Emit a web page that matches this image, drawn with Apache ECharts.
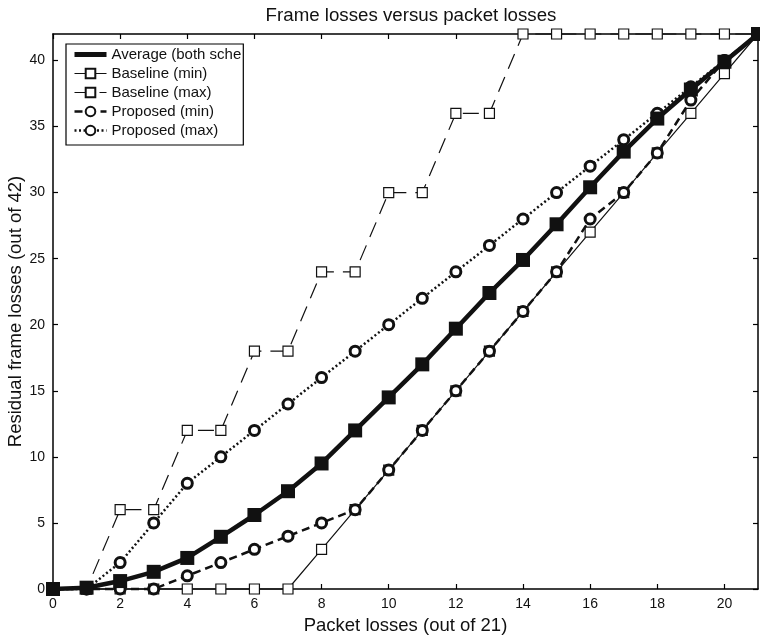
<!DOCTYPE html>
<html>
<head>
<meta charset="utf-8">
<script src="https://cdn.jsdelivr.net/npm/echarts@6/dist/echarts.min.js"></script>
<style>
html,body{margin:0;padding:0;background:#fff;}
#chart{width:760px;height:640px;}
</style>
</head>
<body>
<div id="chart"></div>
<script>
var packetLosses = [0,1,2,3,4,5,6,7,8,9,10,11,12,13,14,15,16,17,18,19,20,21];
var averageBoth  = [0,0.1,0.6,1.3,2.35,3.95,5.6,7.4,9.5,12,14.5,17,19.7,22.4,24.9,27.6,30.4,33.1,35.6,37.8,39.9,42];
var baselineMin  = [0,0,0,0,0,0,0,0,3,6,9,12,15,18,21,24,27,30,33,36,39,42];
var baselineMax  = [0,0,6,6,12,12,18,18,24,24,30,30,36,36,42,42,42,42,42,42,42,42];
var proposedMin  = [0,0,0,0,1,2,3,4,5,6,9,12,15,18,21,24,28,30,33,37,40,42];
var proposedMax  = [0,0,2,5,8,10,12,14,16,18,20,22,24,26,28,30,32,34,36,38,40,42];
var xTicks = [0,2,4,6,8,10,12,14,16,18,20];
var yTicks = [0,5,10,15,20,25,30,35,40];

function pairs(ys){ return packetLosses.map(function(x,i){ return [x, ys[i]]; }); }

var FONT = "'Liberation Sans', Arial, Helvetica, sans-serif";
var axisCommon = {
  type:'value',
  axisLine:{show:true, onZero:false, lineStyle:{color:'#000', width:1.5}},
  axisTick:{show:true, inside:true, length:5, lineStyle:{color:'#000', width:1.2}},
  splitLine:{show:false}
};

var chart = echarts.init(document.getElementById('chart'), null, {renderer:'canvas'});
chart.setOption({
  backgroundColor:'#fff',
  animation:false,
  title:{
    text:'Frame losses versus packet losses',
    left:406, top:1, textAlign:'center',
    textStyle:{fontFamily:FONT, fontSize:18.7, fontWeight:'normal', color:'#111'}
  },
  grid:{left:53, right:2, top:34, bottom:51, containLabel:false, outerBoundsMode:'none'},
  legend:{
    orient:'vertical', left:66, top:44,
    data:[
      {name:'Average (both schemes)', itemStyle:{opacity:0}, lineStyle:{width:5}},
      {name:'Baseline (min)', lineStyle:{width:1.2}},
      {name:'Baseline (max)', lineStyle:{width:1.2}},
      {name:'Proposed (min)', lineStyle:{width:2.5}},
      {name:'Proposed (max)', lineStyle:{width:2.5}}
    ],
    backgroundColor:'#fff', borderColor:'#000', borderWidth:1.2,
    padding:[3,2,7,6], itemGap:4, itemWidth:32, itemHeight:12,
    textStyle:{fontFamily:FONT, fontSize:15, color:'#111', width:142, overflow:'truncate', ellipsis:''}
  },
  xAxis:[
    Object.assign({}, axisCommon, {
      position:'bottom', min:0, max:21, interval:2,
      name:'Packet losses (out of 21)', nameLocation:'middle', nameGap:27, nameMoveOverlap:false,
      nameTextStyle:{fontFamily:FONT, fontSize:18.5, color:'#111'},
      axisLabel:{show:true, showMaxLabel:false, margin:8, fontFamily:FONT, fontSize:14, color:'#111',
        formatter:function(v){ return xTicks.indexOf(v) >= 0 ? String(v) : ''; }}
    }),
    Object.assign({}, axisCommon, {
      position:'top', min:0, max:21, interval:2, axisLabel:{show:false}
    })
  ],
  yAxis:[
    Object.assign({}, axisCommon, {
      position:'left', min:0, max:42, interval:5,
      name:'Residual frame losses (out of 42)', nameLocation:'middle', nameGap:28, nameMoveOverlap:false,
      nameTextStyle:{fontFamily:FONT, fontSize:18.5, color:'#111'},
      axisLabel:{show:true, showMaxLabel:false, margin:8, fontFamily:FONT, fontSize:14, color:'#111',
        formatter:function(v){ return yTicks.indexOf(v) >= 0 ? String(v) : ''; }}
    }),
    Object.assign({}, axisCommon, {
      position:'right', min:0, max:42, interval:5, axisLabel:{show:false}
    })
  ],
  series:[
    {
      name:'Baseline (min)', type:'line', data:pairs(baselineMin), clip:false, z:2,
      symbol:'rect', symbolSize:10,
      itemStyle:{color:'#fff', borderColor:'#111', borderWidth:1.2},
      lineStyle:{color:'#111', width:1.2, type:'solid'}
    },
    {
      name:'Baseline (max)', type:'line', data:pairs(baselineMax), clip:false, z:2,
      symbol:'rect', symbolSize:10,
      itemStyle:{color:'#fff', borderColor:'#111', borderWidth:1.2},
      lineStyle:{color:'#111', width:1.2, type:[16,9]}
    },
    {
      name:'Proposed (min)', type:'line', data:pairs(proposedMin), clip:false, z:3,
      symbol:'circle', symbolSize:10,
      itemStyle:{color:'#fff', borderColor:'#111', borderWidth:3},
      lineStyle:{color:'#111', width:2.5, type:[8,5]}
    },
    {
      name:'Proposed (max)', type:'line', data:pairs(proposedMax), clip:false, z:3,
      symbol:'circle', symbolSize:10,
      itemStyle:{color:'#fff', borderColor:'#111', borderWidth:3},
      lineStyle:{color:'#111', width:2.5, type:[2,2.5]}
    },
    {
      name:'Average (both schemes)', type:'line', data:pairs(averageBoth), clip:false, z:4,
      symbol:'rect', symbolSize:14,
      itemStyle:{color:'#111'},
      lineStyle:{color:'#111', width:4.5, type:'solid'}
    }
  ]
});
</script>
</body>
</html>
